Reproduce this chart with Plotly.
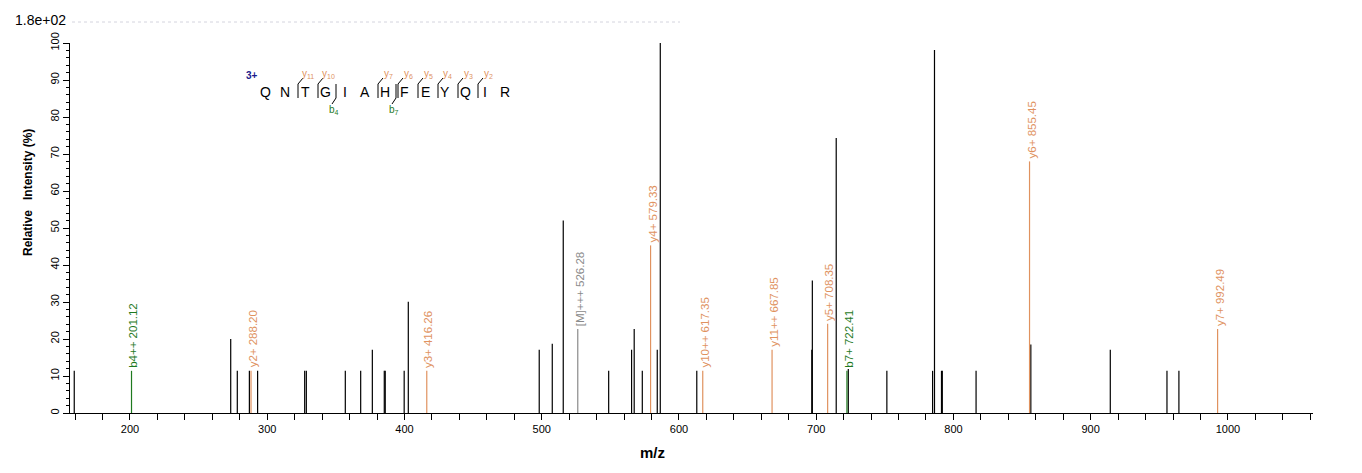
import plotly.graph_objects as go

# unannotated peaks (m/z, relative intensity %)
other_mz = [159.4, 273.4, 278.2, 287.0, 293.0, 327.3, 328.5, 356.9, 368.1, 376.6,
            385.3, 386.0, 399.8, 402.8, 498.2, 507.7, 515.7, 548.8, 565.5, 567.4,
            573.3, 584.2, 586.4, 613.0, 696.8, 697.2, 714.6, 723.4, 751.5, 784.8,
            786.2, 791.3, 791.9, 816.5, 856.4, 914.3, 955.6, 964.3]
other_int = [11.4, 20.0, 11.4, 11.4, 11.4, 11.4, 11.4, 11.4, 11.4, 17.1,
             11.4, 11.4, 11.4, 30.1, 17.1, 18.7, 52.0, 11.4, 17.1, 22.7,
             11.4, 17.1, 100.0, 11.4, 17.1, 35.8, 74.3, 11.9, 11.4, 11.4,
             98.1, 11.4, 11.4, 11.4, 18.5, 17.1, 11.4, 11.4]

# annotated fragment ions
ion_names = ["b4++", "y2+", "y3+", "[M]+++", "y4+", "y10++", "y11++", "y5+", "b7+", "y6+", "y7+"]
ion_mz = [201.12, 288.20, 416.26, 526.28, 579.33, 617.35, 667.85, 708.35, 722.41, 855.45, 992.49]
ion_int = [11.4, 11.4, 11.4, 22.7, 45.3, 11.4, 17.1, 24.1, 11.4, 68.0, 22.7]
ion_type = ["b", "y", "y", "M", "y", "y", "y", "y", "b", "y", "y"]

sequence = "QNTGIAHFEYQIR"
charge = "3+"
y_ions = [11, 10, 7, 6, 5, 4, 3, 2]
b_ions = [4, 7]

colors = {"b": "#1f7a1f", "y": "#e0925f", "M": "#8a8a8a", "other": "black"}

def sticks(xs, ys):
    px, py = [], []
    for x, y in zip(xs, ys):
        px += [x, x, None]
        py += [0, y, None]
    return px, py

fig = go.Figure()
x, y = sticks(other_mz, other_int)
fig.add_trace(go.Scatter(x=x, y=y, mode="lines", line=dict(color="black", width=1.2),
                         hoverinfo="skip", showlegend=False))
for t in ["b", "y", "M"]:
    sel = [i for i in range(len(ion_mz)) if ion_type[i] == t]
    x, y = sticks([ion_mz[i] for i in sel], [ion_int[i] for i in sel])
    fig.add_trace(go.Scatter(x=x, y=y, mode="lines", line=dict(color=colors[t], width=1.2),
                             hoverinfo="skip", showlegend=False))

for name, mz, inten, t in zip(ion_names, ion_mz, ion_int, ion_type):
    fig.add_annotation(x=mz, y=inten, text=f"{name} {mz:.2f}", textangle=-90,
                       showarrow=False, xanchor="center", yanchor="bottom",
                       xshift=2, yshift=1, font=dict(size=11.5, color=colors[t]))

# plot area in screen pixels (page body adds an 8px offset)
OFF = 8
W, H = 1362, 473
X0, X1, Y0, Y1 = 70, 1313, 43, 413
PW, PH = X1 - X0, Y1 - Y0

def px(xp):
    return (xp - X0) / PW

def py(yp):
    return (Y1 - yp) / PH

def note(xp, yp, text, size, color, **kw):
    fig.add_annotation(x=px(xp), y=py(yp), xref="paper", yref="paper", text=text,
                       showarrow=False, xanchor=kw.pop("xanchor", "center"),
                       yanchor="middle", font=dict(size=size, color=color), **kw)

# peptide sequence with fragment marks
seq_x0, seq_dx, seq_y = 265, 20, 92
for i, aa in enumerate(sequence):
    note(seq_x0 + seq_dx * i, seq_y, aa, 14, "black")
note(252, 75, "<b>" + charge + "</b>", 10, "#1a1a8c")

n = len(sequence)
for k in y_ions:
    bx = seq_x0 + seq_dx * (n - k) - 7
    fig.add_shape(type="path", xref="paper", yref="paper",
                  path=f"M {px(bx)} {py(98)} L {px(bx)} {py(84)} L {px(bx + 5)} {py(78)}",
                  line=dict(color="black", width=1))
    note(bx + 10, 74, f"y<sub>{k}</sub>", 10, colors["y"])
for k in b_ions:
    bx = seq_x0 + seq_dx * k - 9
    fig.add_shape(type="path", xref="paper", yref="paper",
                  path=f"M {px(bx)} {py(84)} L {px(bx)} {py(98)} L {px(bx - 4)} {py(104)}",
                  line=dict(color="black", width=1))
    note(bx - 2, 110, f"b<sub>{k}</sub>", 10, colors["b"])

# max intensity label, faint header line, axis titles
note(13, 20, "1.8e+02", 14, "black", xanchor="left")
fig.add_shape(type="line", xref="paper", yref="paper", x0=px(72), x1=px(680), y0=py(22), y1=py(22),
              line=dict(color="#d4d4de", width=1, dash="dot"))
note(652, 452, "<b>m/z</b>", 15, "black")
note(28, 193, "<b>Relative   Intensity (%)</b>", 12, "black", textangle=-90)

fig.update_layout(
    width=W - OFF, height=H - OFF,
    margin=dict(l=X0 - OFF, r=W - X1, t=Y0 - OFF, b=H - Y1),
    paper_bgcolor="white", plot_bgcolor="white",
    font=dict(family="Arial, Liberation Sans, sans-serif", color="black"),
    showlegend=False,
)
fig.update_xaxes(range=[156.3, 1062], showline=True, linecolor="black", linewidth=1,
                 showgrid=False, zeroline=False, ticks="outside", ticklen=6, tickcolor="black",
                 tick0=0, dtick=100, tickfont=dict(size=11),
                 minor=dict(dtick=20, ticks="outside", ticklen=6, tickcolor="black"))
fig.update_yaxes(range=[0, 100], showline=True, linecolor="black", linewidth=1,
                 showgrid=False, zeroline=False, ticks="outside", ticklen=6, tickcolor="black",
                 dtick=10, tickangle=-90, tickfont=dict(size=11),
                 minor=dict(dtick=2, ticks="outside", ticklen=3, tickcolor="black"))

fig.write_html("out.html")
